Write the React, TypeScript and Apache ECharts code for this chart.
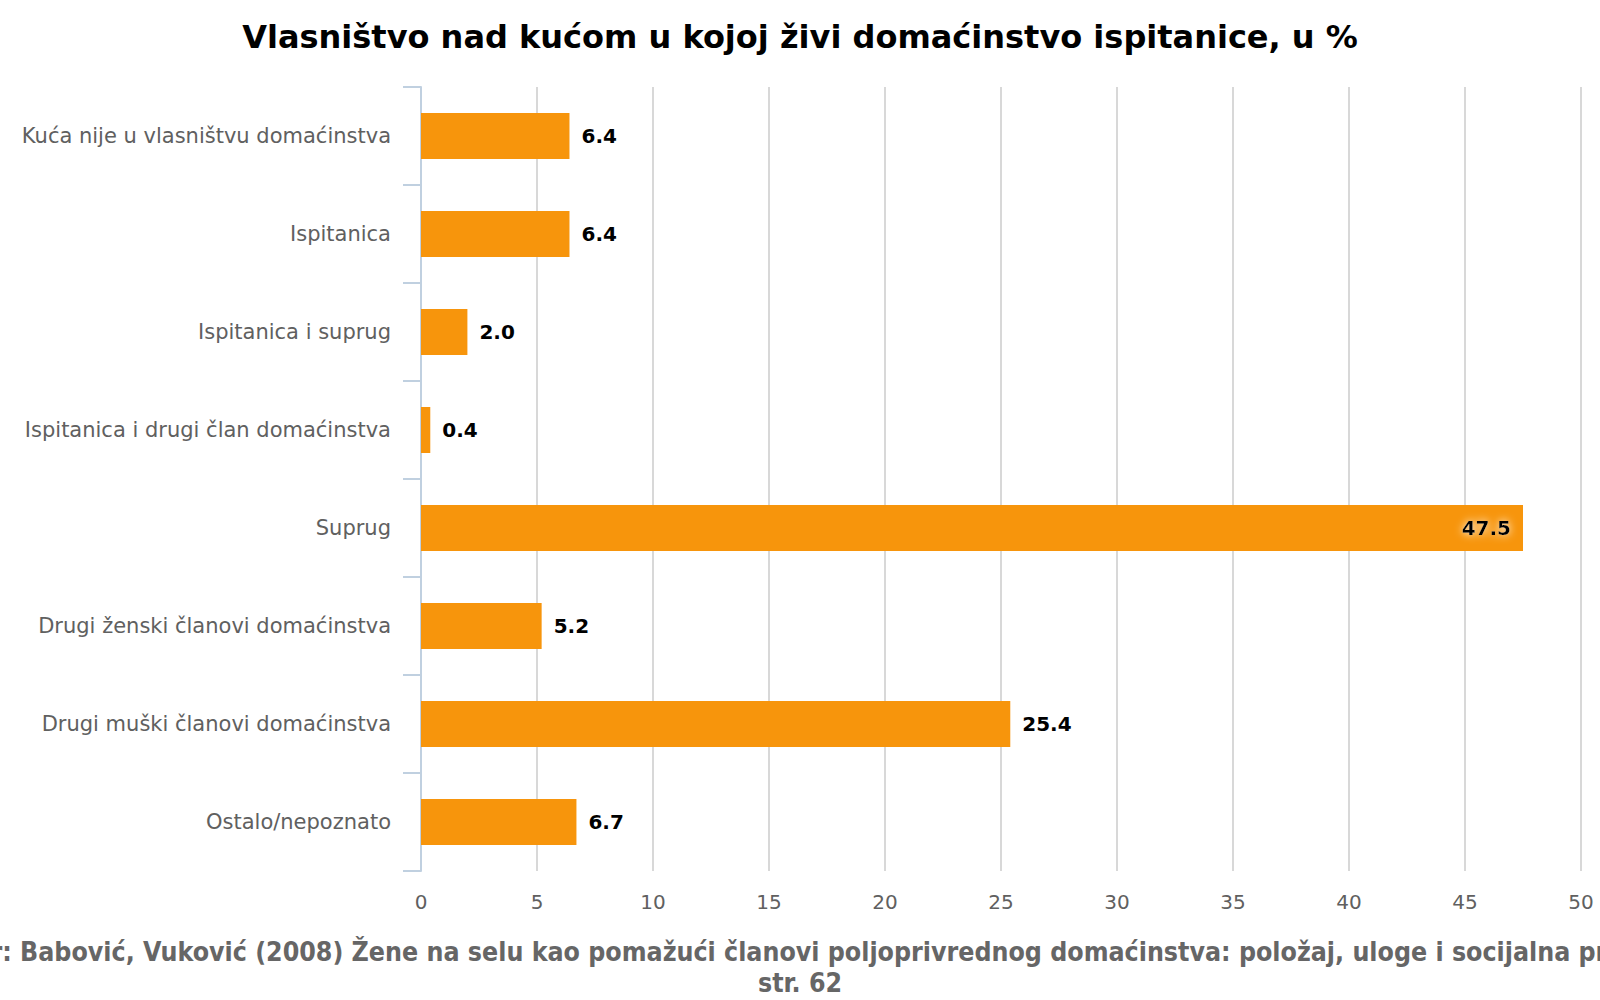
import React, { useEffect, useRef } from "react";
import * as echarts from "echarts";

const categories = [
  "Kuća nije u vlasništvu domaćinstva",
  "Ispitanica",
  "Ispitanica i suprug",
  "Ispitanica i drugi član domaćinstva",
  "Suprug",
  "Drugi ženski članovi domaćinstva",
  "Drugi muški članovi domaćinstva",
  "Ostalo/nepoznato",
];
const values = [6.4, 6.4, 2.0, 0.4, 47.5, 5.2, 25.4, 6.7];
const xTicks = [0, 5, 10, 15, 20, 25, 30, 35, 40, 45, 50];
const titleText = "Vlasništvo nad kućom u kojoj živi domaćinstvo ispitanice, u %";
const sourceText =
  "Izvor: Babović, Vuković (2008) Žene na selu kao pomažući članovi poljoprivrednog domaćinstva: položaj, uloge i socijalna prava,\nstr. 62";

export default function App() {
  const ref = useRef<HTMLDivElement>(null);
  useEffect(() => {
    document.body.style.margin = "0";
    const chart = echarts.init(ref.current!, null, { renderer: "svg" });
    const font = "'DejaVu Sans', sans-serif";
    const data = values.map((v) =>
      v > 40
        ? {
            value: v,
            label: {
              position: "insideRight",
              distance: 12,
              textShadowColor: "#ffffff",
              textShadowBlur: 8,
            },
          }
        : { value: v }
    );
    chart.setOption({
      animation: false,
      title: {
        text: titleText,
        left: "center",
        top: 16,
        textStyle: { fontFamily: font, fontWeight: "bold", fontSize: 32, color: "#000" },
      },
      grid: { left: 421, top: 87, width: 1160, height: 784 },
      xAxis: {
        type: "value",
        min: xTicks[0],
        max: xTicks[xTicks.length - 1],
        interval: 5,
        axisLine: { show: false },
        axisTick: { show: false },
        axisLabel: { fontFamily: font, fontSize: 20, color: "#606060", margin: 21 },
        splitLine: { show: true, lineStyle: { color: "#d8d8d8", width: 2 } },
      },
      yAxis: {
        type: "category",
        inverse: true,
        data: categories,
        axisLine: { show: true, lineStyle: { color: "#c0d0e0", width: 2 } },
        axisTick: { show: true, length: 18, lineStyle: { color: "#c0d0e0", width: 2 } },
        axisLabel: { fontFamily: font, fontSize: 21, color: "#606060", margin: 30 },
      },
      series: [
        {
          type: "bar",
          data,
          barWidth: "47%",
          itemStyle: { color: "#f7950c" },
          label: {
            show: true,
            position: "right",
            distance: 12,
            formatter: (p: any) => Number(p.value).toFixed(1),
            fontFamily: font,
            fontWeight: "bold",
            fontSize: 20,
            color: "#000",
          },
        },
      ],
      graphic: [
        {
          type: "text",
          x: 800,
          y: 936,
          style: {
            text: sourceText,
            textAlign: "center",
            fontFamily: "'DejaVu Sans Condensed', 'DejaVu Sans', sans-serif",
            fontWeight: "bold",
            fontSize: 26.5,
            lineHeight: 31,
            fill: "#666",
          },
        },
      ],
    });
    return () => chart.dispose();
  }, []);
  return <div ref={ref} style={{ width: 1600, height: 1000 }} />;
}
